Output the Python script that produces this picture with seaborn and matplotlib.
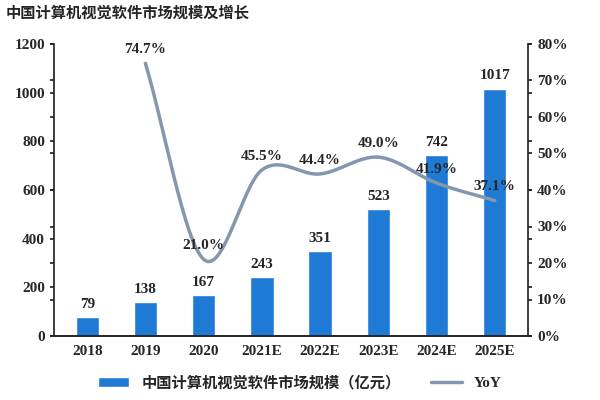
import numpy as np
import pandas as pd
import matplotlib
matplotlib.use("Agg")
import matplotlib.pyplot as plt
import seaborn as sns
from matplotlib.ticker import FuncFormatter

# Dados do gráfico
anos = ["2018", "2019", "2020", "2021E", "2022E", "2023E", "2024E", "2025E"]
mercado = [79, 138, 167, 243, 351, 523, 742, 1017]
yoy = [np.nan, 74.7, 21.0, 45.5, 44.4, 49.0, 41.9, 37.1]

df = pd.DataFrame({"ano": anos, "mercado": mercado, "yoy": yoy})

sns.set_theme(style="white")
plt.rcParams["font.family"] = ["Liberation Serif", "Noto Sans CJK SC"]

fig, ax = plt.subplots(figsize=(6, 4), dpi=100)
fig.subplots_adjust(left=0.09, right=0.88, top=0.89, bottom=0.16)

sns.barplot(data=df, x="ano", y="mercado", color="#1f7ad6", width=0.4,
            saturation=1, ax=ax, label="中国计算机视觉软件市场规模（亿元）")
if ax.get_legend() is not None:
    ax.get_legend().remove()
ax.set_ylim(0, 1200)
ax.set_yticks(range(0, 1201, 200))
ax.set_xlabel("")
ax.set_ylabel("")
for i, v in enumerate(mercado):
    ax.text(i, v + 25, str(v), ha="center", va="bottom", fontsize=11, fontweight="bold")

# linha suavizada (Hermite só para o desenho)
ax2 = ax.twinx()
xs = np.arange(1, len(anos))
ys = np.array(yoy[1:])
px, py = [], []
for k in range(len(xs) - 1):
    y0 = ys[k - 1] if k > 0 else ys[k]
    y3 = ys[k + 2] if k + 2 < len(ys) else ys[k + 1]
    m1 = (ys[k + 1] - y0) / (2 if k > 0 else 1)
    m2 = (y3 - ys[k]) / (2 if k + 2 < len(ys) else 1)
    t = np.linspace(0, 1, 30)
    h00 = 2 * t**3 - 3 * t**2 + 1
    h10 = t**3 - 2 * t**2 + t
    h01 = -2 * t**3 + 3 * t**2
    h11 = t**3 - t**2
    px.extend(xs[k] + t)
    py.extend(h00 * ys[k] + h10 * m1 + h01 * ys[k + 1] + h11 * m2)
ax2.plot(px, py, color="#8496b0", lw=2.5, label="YoY")
ax2.set_ylim(0, 80)
ax2.set_yticks(range(0, 81, 10))
ax2.yaxis.set_major_formatter(FuncFormatter(lambda v, p: f"{v:.0f}%"))
ax2.grid(False)
for i, v in zip(xs, ys):
    ax2.text(i, v + 2, f"{v:.1f}%", ha="center", va="bottom", fontsize=11, fontweight="bold")

for a in (ax, ax2):
    a.spines["top"].set_visible(False)
    a.tick_params(labelsize=11, length=3, direction="out", left=True, right=True)
    for lab in a.get_yticklabels() + a.get_xticklabels():
        lab.set_fontweight("bold")
ax.spines["right"].set_visible(False)
ax2.spines["left"].set_visible(False)

fig.text(0.01, 0.955, "中国计算机视觉软件市场规模及增长", fontsize=11, fontweight="bold",
         style="italic", family="Noto Sans CJK SC")

h1 = [ax.patches[0]]
l1 = ["中国计算机视觉软件市场规模（亿元）"]
h2, l2 = ax2.get_legend_handles_labels()
fig.legend(h1 + h2, l1 + l2, loc="lower center", ncol=2, frameon=False,
           bbox_to_anchor=(0.5, -0.01), prop={"family": ["Liberation Serif", "Noto Sans CJK SC"],
                                               "weight": "bold", "size": 11})

fig.savefig("out.png", dpi=100)
